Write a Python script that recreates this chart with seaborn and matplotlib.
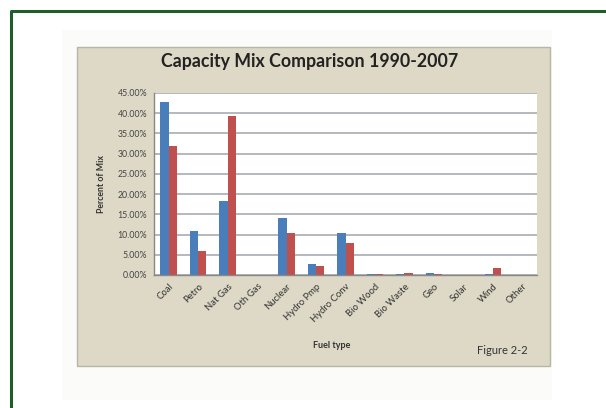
import matplotlib
matplotlib.use("Agg")
import matplotlib.pyplot as plt
import numpy as np
import pandas as pd
import seaborn as sns
from matplotlib.patches import Rectangle
from matplotlib.lines import Line2D

fuels = ["Coal", "Petro", "Nat Gas", "Oth Gas", "Nuclear", "Hydro Pmp",
         "Hydro Conv", "Bio Wood", "Bio Waste", "Geo", "Solar", "Wind", "Other"]
mix_1990 = [42.7, 10.8, 18.4, 0.0, 14.1, 2.8, 10.5, 0.2, 0.2, 0.5, 0.0, 0.3, 0.0]
mix_2007 = [32.0, 6.0, 39.2, 0.0, 10.5, 2.3, 8.0, 0.2, 0.5, 0.3, 0.0, 1.8, 0.0]
yticks = [0, 5, 10, 15, 20, 25, 30, 35, 40, 45]

df = pd.DataFrame({
    "fuel": fuels * 2,
    "pct": mix_1990 + mix_2007,
    "year": ["1990"] * len(fuels) + ["2007"] * len(fuels),
})

sns.set_style("white")
plt.rcParams["font.family"] = ["Lato", "DejaVu Sans"]

fig = plt.figure(figsize=(6.06, 4.08), dpi=100)
W, H = 606, 408

# faint outer frame, beige chart panel, green border
fig.patches.append(Rectangle((62 / W, 1 - 400 / H), 490 / W, 370 / H,
                             transform=fig.transFigure, facecolor="#fbfbfa",
                             edgecolor="none", zorder=-2))
fig.patches.append(Rectangle((77 / W, 1 - 366 / H), 473 / W, 319 / H,
                             transform=fig.transFigure, facecolor="#ddd9c6",
                             edgecolor="#b8b4a6", linewidth=1.0, zorder=-1))
fig.lines.append(Line2D([11 / W, 11 / W, 1.0], [0, 1 - 11 / H, 1 - 11 / H],
                        transform=fig.transFigure, color="#1d5e2c", linewidth=2.2))

ax = fig.add_axes([154 / W, 1 - 275 / H, 383 / W, 182 / H])
ax.set_zorder(2)
sns.barplot(data=df, x="fuel", y="pct", hue="year", ax=ax,
            palette=["#4a7ebb", "#c0504d"], width=0.56, legend=False,
            saturation=1.0, edgecolor="none")
ax.set_facecolor("white")
ax.set_ylim(0, 45)
ax.set_xlim(-0.5, len(fuels) - 0.5)
ax.set_yticks(yticks)
ax.set_yticklabels([f"{v:.2f}%" for v in yticks], fontsize=6.3, color="#444444")
ax.set_xticks(range(len(fuels)))
ax.set_xticklabels(fuels, rotation=45, ha="right", rotation_mode="anchor",
                   fontsize=6.8, color="#333333")
ax.tick_params(axis="x", length=0, pad=5)
ax.tick_params(axis="y", length=3, color="#888888", pad=2)
ax.grid(axis="y", color="#a0a4aa", linewidth=1.1)
ax.set_axisbelow(True)
for s in ["top", "right"]:
    ax.spines[s].set_visible(False)
for s in ["left", "bottom"]:
    ax.spines[s].set_color("#888888")
    ax.spines[s].set_linewidth(1.0)

ax.set_xlabel("")
ax.set_ylabel("Percent of Mix", fontsize=6.3, fontweight="bold", color="#333333",
              labelpad=8)

fig.text(310 / W, 1 - 62 / H, "Capacity Mix Comparison 1990-2007",
         ha="center", va="center", fontsize=12.8, fontweight="bold", color="#222222")
fig.text(332 / W, 1 - 345 / H, "Fuel type", ha="center", va="center",
         fontsize=6.5, fontweight="bold", color="#333333")
fig.text(502 / W, 1 - 350 / H, "Figure 2-2", ha="center", va="center",
         fontsize=8, color="#333333")

fig.savefig("out.png", dpi=100)
